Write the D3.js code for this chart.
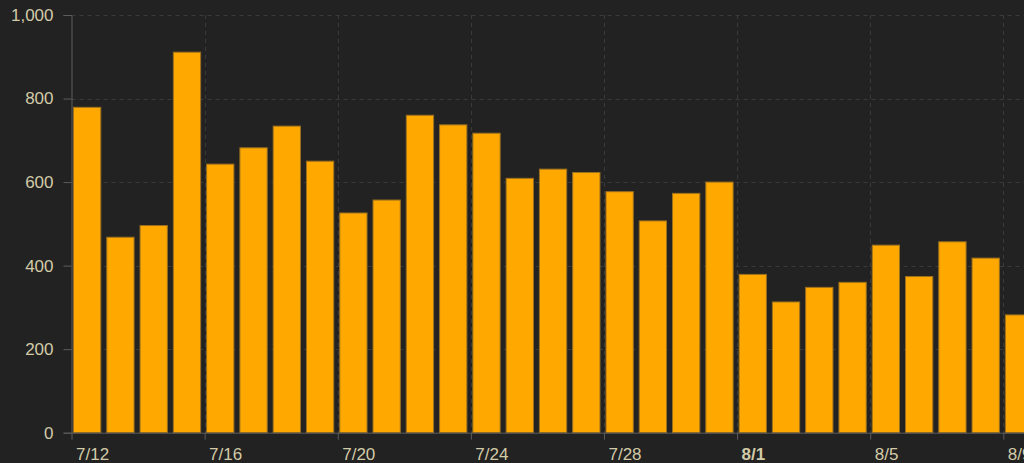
<!DOCTYPE html>
<html>
<head>
<meta charset="utf-8">
<script src="https://cdn.jsdelivr.net/npm/d3@7"></script>
<style>
  html, body { margin: 0; padding: 0; background: #222222; overflow: hidden; }
  svg { display: block; font-family: "Liberation Sans Narrow", "Arial Narrow", "Liberation Sans", sans-serif; }
</style>
</head>
<body>
<script>
const width = 1024;
const height = 463;

// daily values, 7/12 .. 8/9
const days = ["2021-07-12", "2021-07-13", "2021-07-14", "2021-07-15", "2021-07-16", "2021-07-17",
    "2021-07-18", "2021-07-19", "2021-07-20", "2021-07-21", "2021-07-22", "2021-07-23",
    "2021-07-24", "2021-07-25", "2021-07-26", "2021-07-27", "2021-07-28", "2021-07-29",
    "2021-07-30", "2021-07-31", "2021-08-01", "2021-08-02", "2021-08-03", "2021-08-04",
    "2021-08-05", "2021-08-06", "2021-08-07", "2021-08-08", "2021-08-09"];
const counts = [779, 468, 496, 911, 643, 682, 734, 650, 526, 557, 760, 737,
    717, 609, 631, 623, 577, 507, 573, 600, 379, 313, 348, 360,
    449, 374, 457, 418, 282];
const yTicks = [0, 200, 400, 600, 800, 1000];

const parse = d3.timeParse("%Y-%m-%d");
const data = days.map((d, i) => ({ date: parse(d), value: counts[i] }));

const margin = { left: 71.5, top: 15, bottom: 30.3 };
const dayW = 33.28;

const x = d3.scaleTime()
    .domain([parse("2021-07-12"), parse("2021-08-10")])
    .range([margin.left, margin.left + 29 * dayW]);

const y = d3.scaleLinear()
    .domain([0, 1000])
    .range([height - margin.bottom, margin.top]);

const svg = d3.select("body")
    .append("svg")
    .attr("width", width)
    .attr("height", height);

const xTicks = d3.timeDay.range(parse("2021-07-12"), parse("2021-08-10"), 4);

// grid
svg.append("g")
    .attr("stroke", "#3a3a3a")
    .attr("stroke-dasharray", "4,4")
    .selectAll("line")
    .data(yTicks.slice(1))
    .enter()
    .append("line")
    .attr("x1", margin.left)
    .attr("x2", width)
    .attr("y1", d => Math.round(y(d)) + 0.5)
    .attr("y2", d => Math.round(y(d)) + 0.5);

svg.append("g")
    .attr("stroke", "#3a3a3a")
    .attr("stroke-dasharray", "4,4")
    .selectAll("line")
    .data(xTicks.slice(1))
    .enter()
    .append("line")
    .attr("x1", d => Math.round(x(d)) + 0.5)
    .attr("x2", d => Math.round(x(d)) + 0.5)
    .attr("y1", y(1000))
    .attr("y2", y(0));

// bars
svg.append("g")
    .selectAll("rect")
    .data(data)
    .enter()
    .append("rect")
    .attr("x", d => x(d.date) + 2)
    .attr("width", dayW * 0.82)
    .attr("y", d => y(d.value))
    .attr("height", d => y(0) - y(d.value))
    .attr("fill", "#ffa800")
    .attr("stroke", "#9a7020")
    .attr("stroke-width", 1);

// y axis
const yAxis = svg.append("g")
    .attr("transform", `translate(${margin.left},0)`)
    .call(d3.axisLeft(y).tickValues(yTicks).tickSize(8).tickPadding(10).tickFormat(d3.format(",")));
yAxis.select(".domain").attr("stroke", "#5c5c5c");
yAxis.selectAll(".tick line").attr("stroke", "#5c5c5c");
yAxis.selectAll(".tick text")
    .attr("fill", "#d2cba8")
    .style("font-size", "17px");

// x axis
const xAxis = svg.append("g")
    .attr("transform", `translate(0,${y(0)})`)
    .call(d3.axisBottom(x).tickValues(xTicks).tickSize(7).tickSizeOuter(0).tickFormat(d3.timeFormat("%-m/%-d")));
xAxis.select(".domain").attr("stroke", "#5c5c5c");
xAxis.selectAll(".tick line").attr("stroke", "#5c5c5c");
xAxis.selectAll(".tick text")
    .attr("fill", "#d2cba8")
    .attr("text-anchor", "start")
    .attr("x", 4)
    .attr("y", 15)
    .style("font-size", "17px")
    .style("font-weight", d => d.getDate() === 1 ? "bold" : "normal");
</script>
</body>
</html>
